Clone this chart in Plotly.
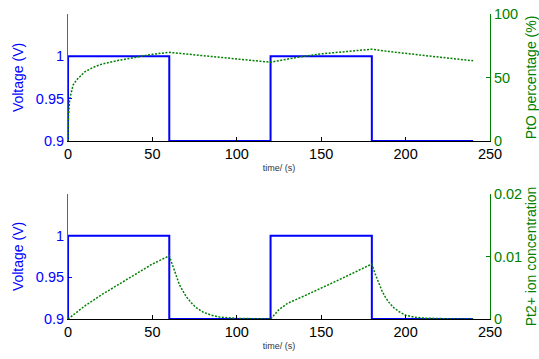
import plotly.graph_objects as go

# ---- data ----
volt_t = [0, 0, 60, 60, 120, 120, 180, 180, 240]
volt_v = [0.9, 1.0, 1.0, 0.9, 0.9, 1.0, 1.0, 0.9, 0.9]

pto_t = [0, 0.3, 1, 2, 3, 5, 8, 10, 15, 20, 30, 40, 50, 60, 70, 80, 90, 100, 110, 120,
         125, 130, 140, 150, 160, 170, 180, 190, 200, 210, 220, 230, 240]
pto_v = [0, 20, 33, 40, 44, 48, 52, 54.5, 58, 60.5, 63.5, 66, 68.3, 69.8, 68.5, 67.2, 65.8, 64.6, 63.3, 62,
         63.3, 64.6, 66.8, 68.6, 70, 71.2, 72.3, 70.5, 68.8, 67.5, 66, 64.6, 63.2]

ion_t = [0, 5, 10, 20, 30, 40, 50, 60, 62, 64, 66, 68, 70, 73, 76, 80, 85, 90, 100, 110, 120,
         125, 130, 140, 150, 160, 170, 180, 182, 184, 186, 188, 190, 193, 196, 200, 205, 210, 220, 230, 240]
ion_v = [0, 0.0011, 0.0021, 0.0039, 0.0055, 0.0072, 0.0088, 0.0101, 0.0085, 0.0068, 0.0055, 0.0045, 0.0036,
         0.0026, 0.0018, 0.0011, 0.0006, 0.0003, 0.0001, 0.00005, 0,
         0.0015, 0.0025, 0.0037, 0.0049, 0.0062, 0.0075, 0.0088, 0.0072, 0.0058, 0.0045, 0.0035, 0.0027,
         0.0018, 0.0012, 0.0006, 0.0003, 0.00015, 0.00005, 0, 0]

left_ticks = [0.9, 0.95, 1]
left_ticktext = ["0.9", "0.95", "1"]
pto_ticks = [0, 50, 100]
ion_ticks = [0, 0.01, 0.02]
ion_ticktext = ["0", "0.01", "0.02"]
x_ticks = [0, 50, 100, 150, 200, 250]

BLUE = "#0000ff"
GREEN = "#008000"
FONT = "Liberation Sans, Arial, Helvetica, sans-serif"
TICK = 14.5

fig = go.Figure()
fig.add_trace(go.Scatter(x=volt_t, y=volt_v, mode="lines", line=dict(color=BLUE, width=2),
                         xaxis="x", yaxis="y", showlegend=False))
fig.add_trace(go.Scatter(x=pto_t, y=pto_v, mode="lines", line=dict(color=GREEN, width=1.5, dash="2px,1.5px"),
                         xaxis="x", yaxis="y2", showlegend=False))
fig.add_trace(go.Scatter(x=volt_t, y=volt_v, mode="lines", line=dict(color=BLUE, width=2),
                         xaxis="x2", yaxis="y3", showlegend=False))
fig.add_trace(go.Scatter(x=ion_t, y=ion_v, mode="lines", line=dict(color=GREEN, width=1.5, dash="2px,1.5px"),
                         xaxis="x2", yaxis="y4", showlegend=False))

xdom = [0.0, 1.0]
top_dom = [(319 - 141) / 305, 1.0]
bot_dom = [0.0, (319 - 194) / 305]

def xax(anchor):
    return dict(domain=xdom, range=[0, 250], tickvals=x_ticks, ticks="inside", ticklen=4,
                tickcolor="black", showline=True, linecolor="black", linewidth=1,
                showgrid=False, zeroline=False, anchor=anchor, automargin=False,
                tickfont=dict(size=TICK, color="black", family=FONT),
                title=dict(text="time/ (s)", font=dict(size=9, color="#333333", family=FONT), standoff=3))

def yleft(dom, anchor):
    return dict(domain=dom, range=[0.9, 1.05], tickvals=left_ticks, ticktext=left_ticktext,
                ticks="inside", ticklen=4, tickcolor=BLUE, showline=True, linecolor="#5050ff",
                linewidth=1, showgrid=False, zeroline=False, anchor=anchor, automargin=False,
                tickfont=dict(size=TICK, color=BLUE, family=FONT),
                title=dict(text="Voltage (V)", font=dict(size=14, color=BLUE, family=FONT), standoff=8))

fig.update_layout(
    width=539, height=359,
    margin=dict(l=68, r=49, t=14, b=40),
    paper_bgcolor="white", plot_bgcolor="white",
    font=dict(family=FONT),
    xaxis=xax("y"),
    yaxis=yleft(top_dom, "x"),
    yaxis2=dict(overlaying="y", side="right", anchor="x", range=[0, 100], tickvals=pto_ticks,
                ticks="inside", ticklen=4, tickcolor=GREEN, showline=True, linecolor=GREEN,
                linewidth=1, showgrid=False, zeroline=False, automargin=False,
                tickfont=dict(size=TICK, color=GREEN, family=FONT),
                title=dict(text="PtO percentage (%)", font=dict(size=14, color=GREEN, family=FONT), standoff=9)),
    xaxis2=xax("y3"),
    yaxis3=yleft(bot_dom, "x2"),
    yaxis4=dict(overlaying="y3", side="right", anchor="x2", range=[0, 0.02], tickvals=ion_ticks,
                ticktext=ion_ticktext, ticks="inside", ticklen=4, tickcolor=GREEN, showline=True,
                linecolor=GREEN, linewidth=1, showgrid=False, zeroline=False, automargin=False,
                tickfont=dict(size=TICK, color=GREEN, family=FONT),
                title=dict(text="Pt2+ ion concentration", font=dict(size=14, color=GREEN, family=FONT), standoff=6)),
)

fig.write_html("out.html", config={"displayModeBar": False},
               post_script="document.body.style.margin='0';")
